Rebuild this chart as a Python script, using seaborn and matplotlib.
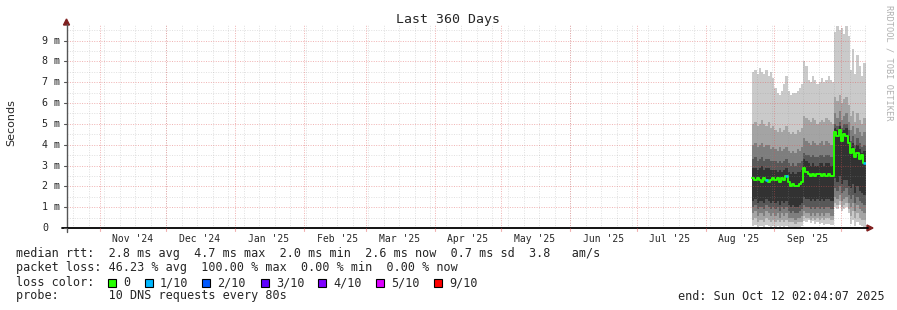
import numpy as np
import pandas as pd
import matplotlib
matplotlib.use("Agg")
import matplotlib.pyplot as plt
import matplotlib.dates as mdates
import matplotlib.transforms as mtransforms
from matplotlib.lines import Line2D
from matplotlib.patches import Polygon, Rectangle
import seaborn as sns

sns.set_theme(style="white")
plt.rcParams['font.family'] = ['DejaVu Sans Mono', 'DejaVu Sans']

# ---------------- data ----------------
title = "Last 360 Days"
start_time = "2024-10-17 02:04:07"
end_time = "2025-10-12 02:04:07"
first_day = "2025-08-22"
last_day = "2025-10-11"

# sorted ping values (ms) per day; cp1 = fastest ... cp10 = slowest
cp10 = [7.5, 7.6, 7.4, 7.7, 7.5, 7.4, 7.6, 7.3, 7.5, 7.2,
        6.7, 6.5, 6.4, 6.6, 6.9, 7.3, 6.6,
        6.4, 6.5, 6.5, 6.6, 6.7, 6.9,
        8.0, 7.8,
        7.1, 7.0, 7.3, 7.1, 6.9, 7.0, 7.2, 7.0, 7.1, 7.3, 7.1, 7.0,
        9.4, 9.7, 9.5, 9.6, 9.3, 9.7, 9.2,
        7.6, 8.6, 7.4, 8.3, 7.8, 7.3, 7.9]
cp9 = [5.0, 5.1, 4.9, 5.0, 5.2, 5.0, 4.9, 5.1, 4.8, 4.9,
       4.7, 4.6, 4.8, 4.6, 4.7, 4.9, 4.6,
       4.5, 4.6, 4.5, 4.7, 4.6, 4.8,
       5.4, 5.3,
       5.2, 5.1, 5.3, 5.2, 5.0, 5.1, 5.2, 5.1, 5.3, 5.2, 5.1, 5.0,
       6.3, 6.1, 6.4, 6.0, 6.2, 6.3, 5.9,
       5.4, 5.6, 5.1, 5.5, 5.2, 5.0, 5.3]
cp8 = [4.0, 4.1, 3.9, 4.0, 4.1, 3.9, 4.0, 4.0, 3.8, 3.9,
       3.8, 3.7, 3.9, 3.7, 3.8, 3.9, 3.7,
       3.6, 3.7, 3.6, 3.8, 3.7, 3.9,
       4.3, 4.2,
       4.1, 4.0, 4.2, 4.1, 4.0, 4.1, 4.2, 4.0, 4.2, 4.1, 4.0, 4.0,
       5.5, 5.3, 5.6, 5.2, 5.4, 5.5, 5.1,
       4.7, 4.9, 4.5, 4.8, 4.6, 4.4, 4.6]
cp7 = [3.3, 3.4, 3.2, 3.3, 3.4, 3.2, 3.3, 3.3, 3.2, 3.2,
       3.2, 3.1, 3.2, 3.1, 3.2, 3.3, 3.1,
       3.0, 3.1, 3.0, 3.1, 3.1, 3.2,
       3.6, 3.5,
       3.5, 3.4, 3.5, 3.4, 3.4, 3.5, 3.5, 3.4, 3.5, 3.5, 3.4, 3.4,
       5.0, 4.9, 5.1, 4.8, 5.0, 5.0, 4.7,
       4.2, 4.4, 4.0, 4.3, 4.1, 3.9, 4.0]
cp6 = [2.9, 2.9, 2.8, 2.9, 3.0, 2.8, 2.9, 2.9, 2.8, 2.8,
       2.8, 2.7, 2.8, 2.7, 2.8, 2.9, 2.7,
       2.6, 2.7, 2.6, 2.7, 2.7, 2.8,
       3.3, 3.2,
       3.1, 3.0, 3.1, 3.0, 3.0, 3.1, 3.1, 3.0, 3.1, 3.1, 3.0, 3.0,
       4.8, 4.7, 4.9, 4.6, 4.7, 4.8, 4.4,
       3.9, 4.1, 3.8, 4.0, 3.8, 3.6, 3.7]
median = [2.4, 2.3, 2.4, 2.3, 2.2, 2.4, 2.3, 2.2, 2.3, 2.4,
          2.3, 2.4, 2.2, 2.4, 2.3, 2.5, 2.2,
          2.0, 2.1, 2.0, 2.0, 2.1, 2.2,
          2.9, 2.7,
          2.6, 2.5, 2.6, 2.5, 2.6, 2.6, 2.5, 2.6, 2.5, 2.6, 2.5, 2.5,
          4.6, 4.4, 4.7, 4.2, 4.5, 4.4, 4.1,
          3.6, 3.8, 3.4, 3.6, 3.3, 3.5, 3.1]
cp5 = [1.3, 1.4, 1.2, 1.3, 1.3, 1.2, 1.4, 1.3, 1.2, 1.3,
       1.2, 1.3, 1.1, 1.3, 1.2, 1.3, 1.1,
       1.0, 1.1, 1.0, 1.0, 1.1, 1.2,
       1.5, 1.4,
       1.4, 1.3, 1.4, 1.3, 1.4, 1.3, 1.4, 1.3, 1.4, 1.4, 1.3, 1.3,
       2.4, 2.2, 2.5, 2.1, 2.3, 2.3, 2.0,
       1.9, 2.1, 1.7, 2.0, 1.8, 1.7, 1.6]
cp4 = [1.0, 1.1, 0.9, 1.0, 1.0, 0.9, 1.1, 1.0, 0.9, 1.0,
       0.9, 1.0, 0.8, 1.0, 0.9, 1.0, 0.8,
       0.7, 0.8, 0.7, 0.7, 0.8, 0.9,
       1.1, 1.0,
       1.0, 0.9, 1.0, 0.9, 1.0, 0.9, 1.0, 0.9, 1.0, 1.0, 0.9, 0.9,
       1.9, 1.8, 2.0, 1.7, 1.8, 1.9, 1.6,
       1.4, 1.6, 1.2, 1.5, 1.3, 1.2, 1.1]
cp3 = [0.7, 0.8, 0.6, 0.7, 0.7, 0.6, 0.8, 0.7, 0.6, 0.7,
       0.6, 0.7, 0.5, 0.7, 0.6, 0.7, 0.5,
       0.5, 0.5, 0.4, 0.5, 0.5, 0.6,
       0.8, 0.7,
       0.7, 0.6, 0.7, 0.6, 0.7, 0.6, 0.7, 0.6, 0.7, 0.7, 0.6, 0.6,
       1.5, 1.4, 1.6, 1.3, 1.4, 1.5, 1.2,
       1.0, 1.2, 0.8, 1.1, 0.9, 0.8, 0.7]
cp2 = [0.4, 0.5, 0.3, 0.4, 0.4, 0.3, 0.5, 0.4, 0.3, 0.4,
       0.3, 0.4, 0.3, 0.4, 0.3, 0.4, 0.3,
       0.3, 0.3, 0.2, 0.3, 0.3, 0.3,
       0.6, 0.5,
       0.5, 0.4, 0.5, 0.4, 0.5, 0.4, 0.5, 0.4, 0.5, 0.5, 0.4, 0.4,
       1.2, 1.1, 1.3, 1.0, 1.1, 1.2, 0.9,
       0.6, 0.8, 0.5, 0.7, 0.5, 0.4, 0.4]
cp1 = [0.10, 0.15, 0.05, 0.10, 0.10, 0.05, 0.15, 0.10, 0.05, 0.10,
       0.05, 0.10, 0.05, 0.10, 0.05, 0.10, 0.05,
       0.05, 0.05, 0.00, 0.05, 0.05, 0.10,
       0.35, 0.30,
       0.40, 0.25, 0.35, 0.20, 0.30, 0.20, 0.25, 0.15, 0.20, 0.20, 0.15, 0.15,
       1.00, 0.90, 1.10, 0.80, 0.90, 1.00, 0.70,
       0.20, 0.40, 0.10, 0.30, 0.15, 0.10, 0.05]
# packets lost (out of 10) per day
loss = [0, 0, 0, 0, 0, 0, 1, 0, 0, 0,
        0, 0, 0, 0, 0, 1, 0,
        0, 0, 0, 0, 0, 0,
        0, 0,
        0, 0, 0, 0, 0, 0, 0, 0, 0, 0, 0, 0,
        0, 0, 0, 0, 0, 0, 0,
        0, 0, 0, 0, 0, 0, 1]

y_ticks = [0, 1, 2, 3, 4, 5, 6, 7, 8, 9]
y_tick_labels = ["0", "1 m", "2 m", "3 m", "4 m", "5 m", "6 m", "7 m", "8 m", "9 m"]
month_labels = ["Nov '24", "Dec '24", "Jan '25", "Feb '25", "Mar '25", "Apr '25",
                "May '25", "Jun '25", "Jul '25", "Aug '25", "Sep '25"]
month_label_dates = ["2024-11-16", "2024-12-16", "2025-01-16", "2025-02-16", "2025-03-16",
                     "2025-04-16", "2025-05-16", "2025-06-16", "2025-07-16", "2025-08-16",
                     "2025-09-16"]

legend_row1 = "median rtt:  2.8 ms avg  4.7 ms max  2.0 ms min  2.6 ms now  0.7 ms sd  3.8   am/s"
legend_row2 = "packet loss: 46.23 % avg  100.00 % max  0.00 % min  0.00 % now"
legend_row3 = "loss color:"
loss_labels = ["0", "1/10", "2/10", "3/10", "4/10", "5/10", "9/10"]
loss_colors = ["#26ff00", "#00b8ff", "#0059ff", "#5e00ff", "#7e00ff", "#dd00ff", "#ff0000"]
loss_color_by_count = {0: "#26ff00", 1: "#00b8ff", 2: "#0059ff", 3: "#5e00ff",
                       4: "#7e00ff", 5: "#dd00ff", 9: "#ff0000"}
legend_row4 = "probe:       10 DNS requests every 80s"
end_text = "end: Sun Oct 12 02:04:07 2025"
watermark = "RRDTOOL / TOBI OETIKER"

# ---------------- figure ----------------
W, H = 897, 310
fig = plt.figure(figsize=(W / 100, H / 100), dpi=100)
fig.patch.set_facecolor("white")

def fx(px):
    return px / W

def fy(py):
    return 1 - py / H

YMAX = 9.745
ax = fig.add_axes([fx(66.5), 82 / H, 799 / W, 203 / H])
ax.set_axis_off()

t0 = mdates.date2num(pd.Timestamp(start_time))
t1 = mdates.date2num(pd.Timestamp(end_time))
ax.set_xlim(t0, t1)
ax.set_ylim(0, YMAX)

days = [mdates.date2num(d) for d in pd.date_range(first_day, last_day, freq="D")]
xs = days + [t1]

def ext(a):
    return list(a) + [a[-1]]

bands = [(cp1, cp10, "#cacaca"), (cp2, cp9, "#a4a4a4"), (cp3, cp8, "#7e7e7e"),
         (cp4, cp7, "#585858"), (cp5, cp6, "#323232")]
for lo, hi, col in bands:
    ax.fill_between(xs, ext(lo), ext(hi), step="post", color=col, lw=0, zorder=3)

# grid (drawn on top of the smoke like rrdtool)
minor_col = (0.56, 0.56, 0.56, 0.28)
major_col = (0.87, 0.32, 0.32, 0.45)
for v in np.arange(0.5, YMAX, 0.5):
    if abs(v - round(v)) > 1e-6:
        ax.axhline(v, color=minor_col, lw=0.7, ls=(0, (1, 1.5)), zorder=4)
for v in y_ticks[1:]:
    ax.axhline(v, color=major_col, lw=0.7, ls=(0, (1, 1.5)), zorder=4)
for d in pd.date_range("2024-10-20", end_time, freq="7D"):
    ax.axvline(mdates.date2num(d), color=minor_col, lw=0.7, ls=(0, (1, 1.5)), zorder=4)
for d in pd.date_range("2024-11-01", end_time, freq="MS"):
    ax.axvline(mdates.date2num(d), color=major_col, lw=0.7, ls=(0, (1, 1.5)), zorder=4)

# median line
df = pd.DataFrame({"t": xs, "median": ext(median)})
sns.lineplot(data=df, x="t", y="median", drawstyle="steps-post", color=loss_colors[0],
             lw=1.4, ax=ax, zorder=6, legend=False)
for i, l in enumerate(loss):
    if l > 0:
        ax.hlines(median[i], xs[i], xs[i + 1], color=loss_color_by_count[l], lw=1.8, zorder=7)
ax.set_xlim(t0, t1)
ax.set_ylim(0, YMAX)

# axes lines and arrows
arrow_col = "#7f1f1f"
fig.add_artist(Line2D([fx(66.5), fx(66.5)], [fy(232), fy(24)], color="#555555", lw=1.0))
fig.add_artist(Line2D([fx(62), fx(868)], [fy(228), fy(228)], color="black", lw=1.3))
fig.add_artist(Polygon([[fx(63.5), fy(25)], [fx(69.5), fy(25)], [fx(66.5), fy(19)]],
                       closed=True, transform=fig.transFigure, color=arrow_col))
fig.add_artist(Polygon([[fx(867), fy(225)], [fx(867), fy(231)], [fx(873), fy(228)]],
                       closed=True, transform=fig.transFigure, color=arrow_col))

# y tick labels
ytrans = mtransforms.blended_transform_factory(fig.transFigure, ax.transData)
for v, lab in zip(y_ticks, y_tick_labels):
    fig.text(fx(42), v, lab, transform=ytrans, ha="left", va="center", fontsize=7.2)
    fig.add_artist(Line2D([fx(63.5), fx(66.5)], [v, v], transform=ytrans,
                          color="#555555", lw=0.8))

# x tick labels
xtrans = mtransforms.blended_transform_factory(ax.transData, fig.transFigure)
for d, lab in zip(month_label_dates, month_labels):
    fig.text(mdates.date2num(pd.Timestamp(d)), fy(238.5), lab, transform=xtrans,
             ha="center", va="center", fontsize=7.0)
for d in pd.date_range("2024-11-01", end_time, freq="MS"):
    fig.add_artist(Line2D([mdates.date2num(d)] * 2, [fy(228), fy(231)], transform=xtrans,
                          color=major_col, lw=0.8))

# title, axis label, watermark
fig.text(fx(448), fy(19), title, ha="center", va="center", fontsize=9.5)
fig.text(fx(11), fy(123), "Seconds", rotation=90, ha="center", va="center",
         fontsize=8, family=["DejaVu Sans"])
fig.text(fx(888.5), fy(63), watermark, rotation=270, ha="center", va="center",
         fontsize=6.2, color="#b0b0b0")

# legend block
FS = 8.5
fig.text(fx(16), fy(254), legend_row1, ha="left", va="center", fontsize=FS)
fig.text(fx(16), fy(268), legend_row2, ha="left", va="center", fontsize=FS)
fig.text(fx(16), fy(282.5), legend_row3, ha="left", va="center", fontsize=FS)
label_x = [123, 160, 217, 276, 333, 391, 449]
for lx, lab, col in zip(label_x, loss_labels, loss_colors):
    fig.add_artist(Rectangle((fx(lx - 15), fy(287)), 8 / W, 8 / H, transform=fig.transFigure,
                             facecolor=col, edgecolor="black", lw=0.8))
    fig.text(fx(lx), fy(282.5), lab, ha="left", va="center", fontsize=FS)
fig.text(fx(16), fy(296), legend_row4, ha="left", va="center", fontsize=FS)
fig.text(fx(678), fy(296), end_text, ha="left", va="center", fontsize=FS)

fig.savefig("out.png", dpi=100, facecolor="white")
